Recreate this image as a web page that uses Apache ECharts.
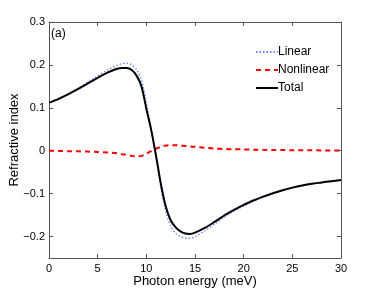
<!DOCTYPE html>
<html><head><meta charset="utf-8">
<script src="https://cdn.jsdelivr.net/npm/echarts@6/dist/echarts.min.js"></script>
<style>html,body{margin:0;padding:0;background:#fff}#c{width:377px;height:291px}</style>
</head><body><div id="c"></div>
<script>
const xValues = [0,1,2,3,4,5,6,7,7.5,8,8.5,9,9.5,10,10.5,11,11.5,12,12.5,13,13.5,14,14.5,15,16,17,18,19,20,21,22,23,24,25,26,27,28,29,30];
const linear = [0.112,0.121,0.133,0.146,0.160,0.174,0.188,0.199,0.203,0.204,0.200,0.189,0.165,0.112,0.052,-0.016,-0.087,-0.142,-0.175,-0.192,-0.200,-0.204,-0.204,-0.200,-0.187,-0.171,-0.155,-0.141,-0.129,-0.118,-0.109,-0.100,-0.093,-0.087,-0.082,-0.078,-0.074,-0.071,-0.068];
const nonlinear = [0,-0.0005,-0.001,-0.0015,-0.002,-0.003,-0.004,-0.006,-0.008,-0.010,-0.012,-0.013,-0.012,-0.007,-0.001,0.005,0.009,0.012,0.013,0.013,0.012,0.011,0.010,0.009,0.007,0.005,0.004,0.0035,0.003,0.0025,0.002,0.0018,0.0015,0.0012,0.001,0.0009,0.0008,0.0007,0.0006];
const total = [0.112,0.121,0.132,0.144,0.157,0.170,0.182,0.191,0.193,0.193,0.188,0.175,0.150,0.098,0.048,-0.012,-0.078,-0.130,-0.162,-0.178,-0.188,-0.193,-0.194,-0.191,-0.180,-0.166,-0.151,-0.138,-0.126,-0.116,-0.107,-0.099,-0.092,-0.086,-0.081,-0.077,-0.074,-0.071,-0.068];
const xTicks = [0,5,10,15,20,25,30];
const yTicks = [-0.2,-0.1,0,0.1,0.2,0.3];
const seriesNames = ['Linear','Nonlinear','Total'];

const pair = arr => xValues.map((x,i)=>[x,arr[i]]);
const fmt = v => (v < 0 ? '\u2212' + String(Math.abs(v)) : String(v));
const font = 'Liberation Sans';
const axisLineStyle = {color:'#555', width:1};
const chart = echarts.init(document.getElementById('c'), null, {renderer:'canvas'});
chart.setOption({
  animation:false,
  backgroundColor:'#fff',
  textStyle:{fontFamily:font},
  grid:{left:49, right:36, top:22, bottom:33, containLabel:false, outerBoundsMode:'none'},
  title:{text:'(a)', left:51, top:28, padding:0, textStyle:{fontFamily:font, fontSize:12, fontWeight:'normal', color:'#000'}},
  legend:{
    data:seriesNames, orient:'vertical', left:255, top:46, padding:0, itemWidth:22, itemHeight:10, itemGap:6,
    itemStyle:{opacity:0},
    textStyle:{fontFamily:font, fontSize:12, color:'#000', padding:[0,0,0,-5]}
  },
  xAxis:[{
    type:'value', min:0, max:30, position:'bottom',
    name:'Photon energy (meV)', nameLocation:'middle', nameGap:17, nameMoveOverlap:false,
    nameTextStyle:{fontFamily:font, fontSize:13, color:'#000'},
    axisLine:{show:true, onZero:false, lineStyle:axisLineStyle},
    axisTick:{show:true, inside:true, length:4, customValues:xTicks, lineStyle:axisLineStyle},
    axisLabel:{show:true, customValues:xTicks, margin:5, fontFamily:font, fontSize:11, color:'#000'},
    splitLine:{show:false}
  },{
    type:'value', min:0, max:30, position:'top',
    axisLine:{show:true, onZero:false, lineStyle:axisLineStyle},
    axisTick:{show:true, inside:true, length:4, customValues:xTicks, lineStyle:axisLineStyle},
    axisLabel:{show:false}, splitLine:{show:false}
  }],
  yAxis:[{
    type:'value', min:-0.25, max:0.3, position:'left',
    name:'Refractive index', nameLocation:'middle', nameGap:28, nameMoveOverlap:false,
    nameTextStyle:{fontFamily:font, fontSize:13, color:'#000'},
    axisLine:{show:true, onZero:false, lineStyle:axisLineStyle},
    axisTick:{show:true, inside:true, length:4, customValues:yTicks, lineStyle:axisLineStyle},
    axisLabel:{show:true, customValues:yTicks, margin:4, fontFamily:font, fontSize:11, color:'#000', formatter:fmt},
    splitLine:{show:false}
  },{
    type:'value', min:-0.25, max:0.3, position:'right',
    axisLine:{show:true, onZero:false, lineStyle:axisLineStyle},
    axisTick:{show:true, inside:true, length:4, customValues:yTicks, lineStyle:axisLineStyle},
    axisLabel:{show:false}, splitLine:{show:false}
  }],
  series:[
    {name:seriesNames[0], type:'line', data:pair(linear), smooth:0.3, symbol:'none', z:2,
     lineStyle:{color:'#6b7fff', width:1.3, type:[1.5,2]}, itemStyle:{color:'#6b7fff'}},
    {name:seriesNames[1], type:'line', data:pair(nonlinear), smooth:0.3, symbol:'none', z:3,
     lineStyle:{color:'#ff0000', width:2, type:[5,4]}, itemStyle:{color:'#ff0000'}},
    {name:seriesNames[2], type:'line', data:pair(total), smooth:0.3, symbol:'none', z:4,
     lineStyle:{color:'#000', width:2}, itemStyle:{color:'#000'}}
  ]
});
</script></body></html>
